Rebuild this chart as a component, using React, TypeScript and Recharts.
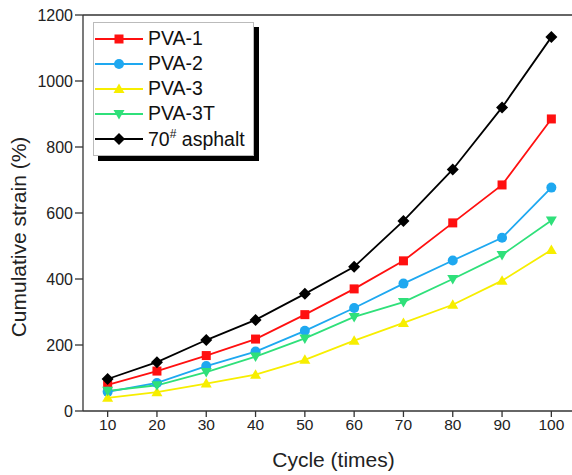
import React from 'react'
import { LineChart, Line, XAxis, YAxis, ReferenceLine } from 'recharts'

const cycles = [10, 20, 30, 40, 50, 60, 70, 80, 90, 100]
const pva1 = [79, 121, 168, 218, 292, 370, 455, 570, 685, 885]
const pva2 = [58, 85, 136, 180, 243, 312, 386, 456, 525, 677]
const pva3 = [40, 57, 83, 110, 155, 213, 267, 322, 395, 488]
const pva3t = [61, 78, 118, 165, 220, 285, 330, 400, 473, 577]
const asphalt = [97, 148, 215, 276, 355, 437, 576, 732, 920, 1133]

const yTicks = [0, 200, 400, 600, 800, 1000, 1200]

const FONT = '"Liberation Sans", Arial, sans-serif'

type Shape = 'square' | 'circle' | 'up' | 'down' | 'diamond'

const SERIES: { key: string; name: string; color: string; shape: Shape; values: number[] }[] = [
  { key: 'pva1', name: 'PVA-1', color: '#ff1010', shape: 'square', values: pva1 },
  { key: 'pva2', name: 'PVA-2', color: '#1ea8f0', shape: 'circle', values: pva2 },
  { key: 'pva3', name: 'PVA-3', color: '#f7ee00', shape: 'up', values: pva3 },
  { key: 'pva3t', name: 'PVA-3T', color: '#2fe07a', shape: 'down', values: pva3t },
  { key: 'asphalt', name: '70# asphalt', color: '#000000', shape: 'diamond', values: asphalt },
]

const data = cycles.map((c, i) => {
  const row: Record<string, number> = { cycle: c }
  SERIES.forEach(s => { row[s.key] = s.values[i] })
  return row
})

function Marker({ shape, color, cx, cy }: { shape: Shape; color: string; cx: number; cy: number }) {
  if (shape === 'square') return <rect x={cx - 4.5} y={cy - 4.5} width={9} height={9} fill={color} />
  if (shape === 'circle') return <circle cx={cx} cy={cy} r={5} fill={color} />
  if (shape === 'up') return <polygon points={`${cx},${cy - 5.5} ${cx + 5.5},${cy + 4} ${cx - 5.5},${cy + 4}`} fill={color} />
  if (shape === 'down') return <polygon points={`${cx},${cy + 5.5} ${cx + 5.5},${cy - 4} ${cx - 5.5},${cy - 4}`} fill={color} />
  return <polygon points={`${cx},${cy - 6} ${cx + 6},${cy} ${cx},${cy + 6} ${cx - 6},${cy}`} fill={color} />
}

function makeDot(shape: Shape, color: string) {
  return (props: any) => (
    <g key={`dot-${props.index}`}>
      <Marker shape={shape} color={color} cx={props.cx} cy={props.cy} />
    </g>
  )
}

function LegendBox() {
  return (
    <div
      style={{
        position: 'absolute',
        left: 93,
        top: 22,
        boxSizing: 'border-box',
        background: '#fff',
        border: '1px solid #bbb',
        boxShadow: '5px 5px 0 #000',
        padding: '3px 2px 4px 1px',
        width: 161,
        fontFamily: FONT,
        fontSize: 19.5,
        color: '#111',
      }}
    >
      {SERIES.map(s => (
        <div key={s.key} style={{ display: 'flex', alignItems: 'center', height: 25, whiteSpace: 'nowrap' }}>
          <svg width={48} height={14} style={{ marginRight: 5, flex: 'none' }}>
            <line x1={0} y1={7} x2={48} y2={7} stroke={s.color} strokeWidth={1.8} />
            <Marker shape={s.shape} color={s.color} cx={24} cy={7} />
          </svg>
          {s.key === 'asphalt' ? (
            <span>70<sup style={{ fontSize: 12 }}>#</sup> asphalt</span>
          ) : (
            <span>{s.name}</span>
          )}
        </div>
      ))}
    </div>
  )
}

export default function App() {
  return (
    <div style={{ position: 'absolute', left: 0, top: 0, width: 572, height: 475, overflow: 'hidden', background: '#fff' }}>
      <LineChart width={580} height={475} data={data} margin={{ top: 15, right: 4, bottom: 0, left: 0 }}>
        <XAxis
          dataKey="cycle"
          type="number"
          domain={[5, 105]}
          ticks={cycles}
          height={64}
          tickSize={6}
          axisLine={{ stroke: '#333', strokeWidth: 1.3 }}
          tickLine={{ stroke: '#333', strokeWidth: 1.3 }}
          tick={{ fill: '#222', fontSize: 15.5, fontFamily: FONT }}
          label={({ viewBox }: any) => (
            <text
              x={viewBox.x + viewBox.width / 2 + 4}
              y={viewBox.y + 56}
              textAnchor="middle"
              fontSize={21}
              fontFamily={FONT}
              fill="#222"
            >
              Cycle (times)
            </text>
          )}
        />
        <YAxis
          type="number"
          domain={[0, 1200]}
          ticks={yTicks}
          width={83}
          tickSize={8}
          axisLine={{ stroke: '#333', strokeWidth: 1.3 }}
          tickLine={{ stroke: '#333', strokeWidth: 1.3 }}
          tick={{ fill: '#222', fontSize: 16, fontFamily: FONT }}
          label={({ viewBox }: any) => (
            <text
              x={0}
              y={0}
              transform={`translate(${viewBox.x + 26}, ${viewBox.y + viewBox.height / 2 + 24}) rotate(-90)`}
              textAnchor="middle"
              fontSize={21}
              fontFamily={FONT}
              fill="#222"
            >
              Cumulative strain (%)
            </text>
          )}
        />
        <ReferenceLine y={1200} stroke="#333" strokeWidth={1.3} />
        {SERIES.map(s => (
          <Line
            key={s.key}
            type="linear"
            dataKey={s.key}
            name={s.name}
            stroke={s.color}
            strokeWidth={1.8}
            dot={makeDot(s.shape, s.color)}
            activeDot={false}
            isAnimationActive={false}
          />
        ))}
      </LineChart>
      <LegendBox />
    </div>
  )
}
